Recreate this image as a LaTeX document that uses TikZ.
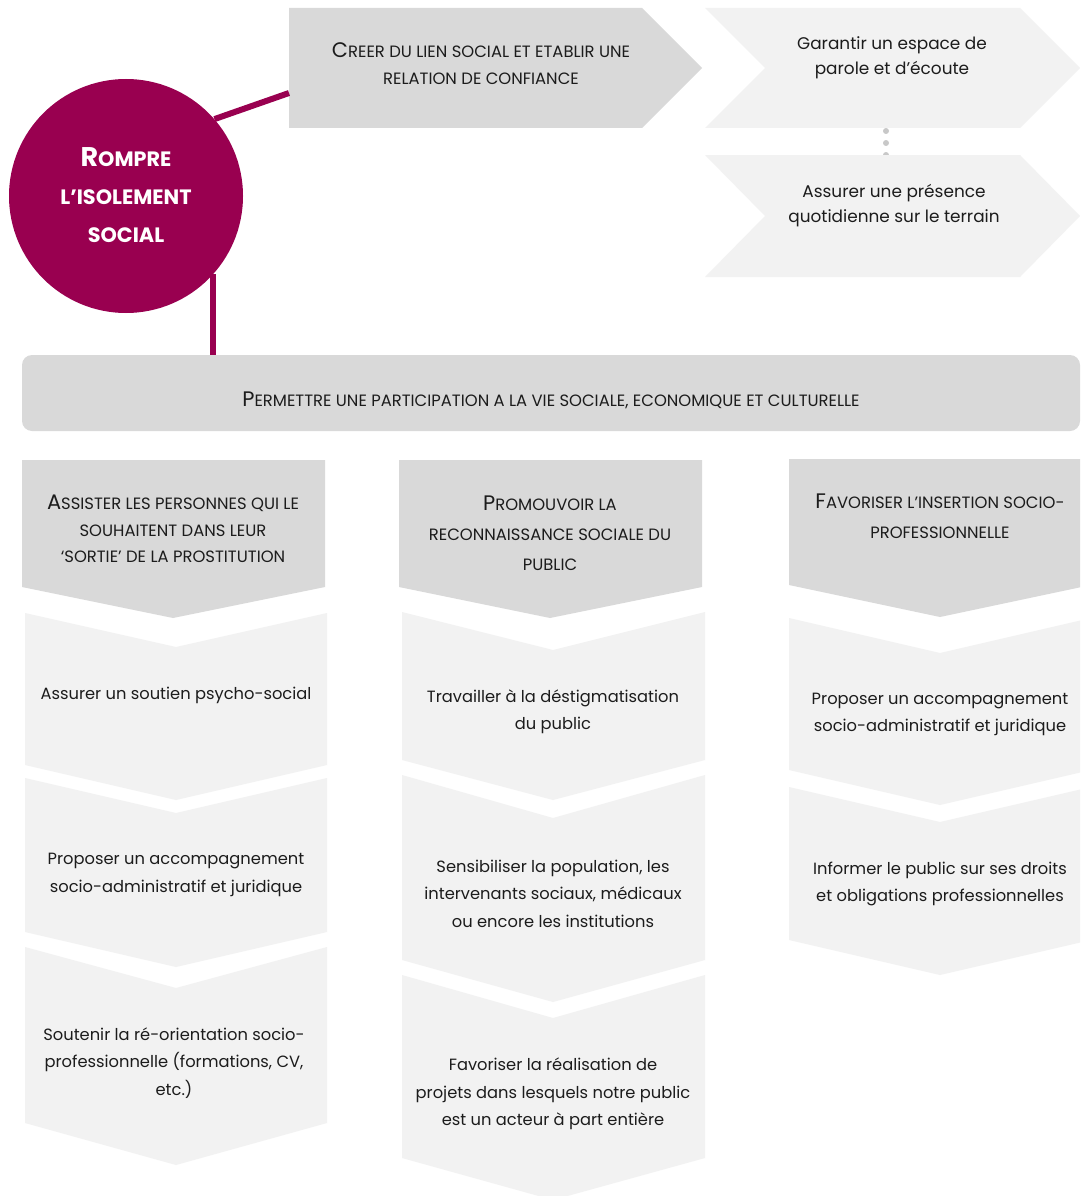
\documentclass[tikz,border=0pt]{standalone}
\usepackage{fontspec}
\setmainfont{Poppins}
\definecolor{mag}{RGB}{153,0,80}
\definecolor{dk}{RGB}{217,217,217}
\definecolor{lt}{RGB}{242,242,242}
\definecolor{txt}{RGB}{28,28,28}
\definecolor{dotc}{RGB}{200,200,200}
\newcommand\capA[1]{{\fontsize{21}{21}\selectfont #1}}
\begin{document}
\begin{tikzpicture}[x=1pt,y=-1pt,
  body/.style={font=\fontsize{16.3}{27.5}\selectfont, text=txt, align=center, inner sep=0},
  topbody/.style={font=\fontsize{16.9}{25}\selectfont, text=txt, align=center, inner sep=0},
  head/.style={font=\fontsize{16.4}{26.5}\selectfont, text=txt, align=center, inner sep=0},
  headwide/.style={font=\fontsize{16.4}{30}\selectfont, text=txt, align=center, inner sep=0},
  darkshape/.style={fill=dk},
  lightshape/.style={fill=lt},
  link/.style={draw=mag, line width=6pt}]
\useasboundingbox (0,0) rectangle (1080,1196);
\clip (0,0) rectangle (1080,1196);
\fill[white] (0,0) rectangle (1080,1196);

% top arrows
\fill[darkshape] (289,8) -- (642,8) -- (702,68) -- (642,128) -- (289,128) -- cycle;
\fill[dotc] (886,131) circle (3) (886,143) circle (3) (886,155) circle (3);
\fill[lightshape] (705,8) -- (1020,8) -- (1080,68) -- (1020,128) -- (705,128) -- (765,68) -- cycle;
\fill[lightshape] (705,155) -- (1020,155) -- (1080,216) -- (1020,277) -- (705,277) -- (765,216) -- cycle;

\node[head] (a1) at (481,63.5) {\capA{C}REER DU LIEN SOCIAL ET ETABLIR UNE\\RELATION DE CONFIANCE};
\coordinate (a1in) at (289,93);
\node[topbody] (a2) at (892,57.5) {Garantir un espace de\\parole et d’écoute};
\node[topbody] (a3) at (894,205.5) {Assurer une présence\\quotidienne sur le terrain};

% bar
\fill[darkshape, rounded corners=10pt] (22,355) rectangle (1080,431);
\node[head] (bar) at (551,400) {\capA{P}ERMETTRE UNE PARTICIPATION A LA VIE SOCIALE, ECONOMIQUE ET CULTURELLE};
\coordinate (barTop) at (22,355);

% circle and connectors
\node[circle, fill=mag, minimum size=234pt, inner sep=0] (circ) at (126,196) {};
\draw[link] (circ.41) -- (a1in);
\draw[link] (circ.-42) -- (circ.-42 |- barTop);
\node[font=\fontsize{20.8}{38}\selectfont\bfseries, text=white, align=center, inner sep=0] (circt) at (126,195)
  {{\fontsize{27}{27}\selectfont R}OMPRE\\L’ISOLEMENT\\SOCIAL};

% column 1
\fill[darkshape] (22,460) -- (325,460) -- (325,587) -- (173,618) -- (22,587) -- cycle;
\fill[lightshape] (25,613) -- (176,647) -- (327,613) -- (327,765) -- (176,800) -- (25,765) -- cycle;
\fill[lightshape] (25,778) -- (176,813) -- (327,778) -- (327,932) -- (176,967) -- (25,932) -- cycle;
\fill[lightshape] (25,947) -- (176,988) -- (327,947) -- (327,1123) -- (176,1165) -- (25,1123) -- cycle;
\node[head] (h1) at (173,529) {\capA{A}SSISTER LES PERSONNES QUI LE\\SOUHAITENT DANS LEUR\\‘SORTIE’ DE LA PROSTITUTION};
\node[body] (c11) at (176,695) {Assurer un soutien psycho-social};
\node[body] (c12) at (176,875) {Proposer un accompagnement\\socio-administratif et juridique};
\node[body] (c13) at (174,1063) {Soutenir la ré-orientation socio-\\professionnelle (formations, CV,\\etc.)};

% column 2
\fill[darkshape] (399,460) -- (702,460) -- (702,587) -- (550,618) -- (399,587) -- cycle;
\fill[lightshape] (402,612) -- (553,650) -- (705,612) -- (705,760) -- (553,800) -- (402,760) -- cycle;
\fill[lightshape] (402,775) -- (553,818) -- (705,775) -- (705,960) -- (553,1002) -- (402,960) -- cycle;
\fill[lightshape] (402,975) -- (553,1018) -- (705,975) -- (705,1158) -- (553,1200) -- (402,1158) -- cycle;
\node[headwide] (h2) at (550,533) {\capA{P}ROMOUVOIR LA\\RECONNAISSANCE SOCIALE DU\\PUBLIC};
\node[body] (c21) at (553,711.5) {Travailler à la déstigmatisation\\du public};
\node[body] (c22) at (553,893.5) {Sensibiliser la population, les\\intervenants sociaux, médicaux\\ou encore les institutions};
\node[body] (c23) at (553,1094) {Favoriser la réalisation de\\projets dans lesquels notre public\\est un acteur à part entière};

% column 3
\fill[darkshape] (789,459) -- (1091,459) -- (1091,585) -- (940,617) -- (789,585) -- cycle;
\fill[lightshape] (789,618) -- (940,653) -- (1091,618) -- (1091,770) -- (940,805) -- (789,770) -- cycle;
\fill[lightshape] (789,787) -- (940,822) -- (1091,787) -- (1091,940) -- (940,975) -- (789,940) -- cycle;
\node[headwide] (h3) at (940,516) {\capA{F}AVORISER L’INSERTION SOCIO-\\PROFESSIONNELLE};
\node[body] (c31) at (940,714.5) {Proposer un accompagnement\\socio-administratif et juridique};
\node[body] (c32) at (940,884) {Informer le public sur ses droits\\et obligations professionnelles};
\end{tikzpicture}
\end{document}
